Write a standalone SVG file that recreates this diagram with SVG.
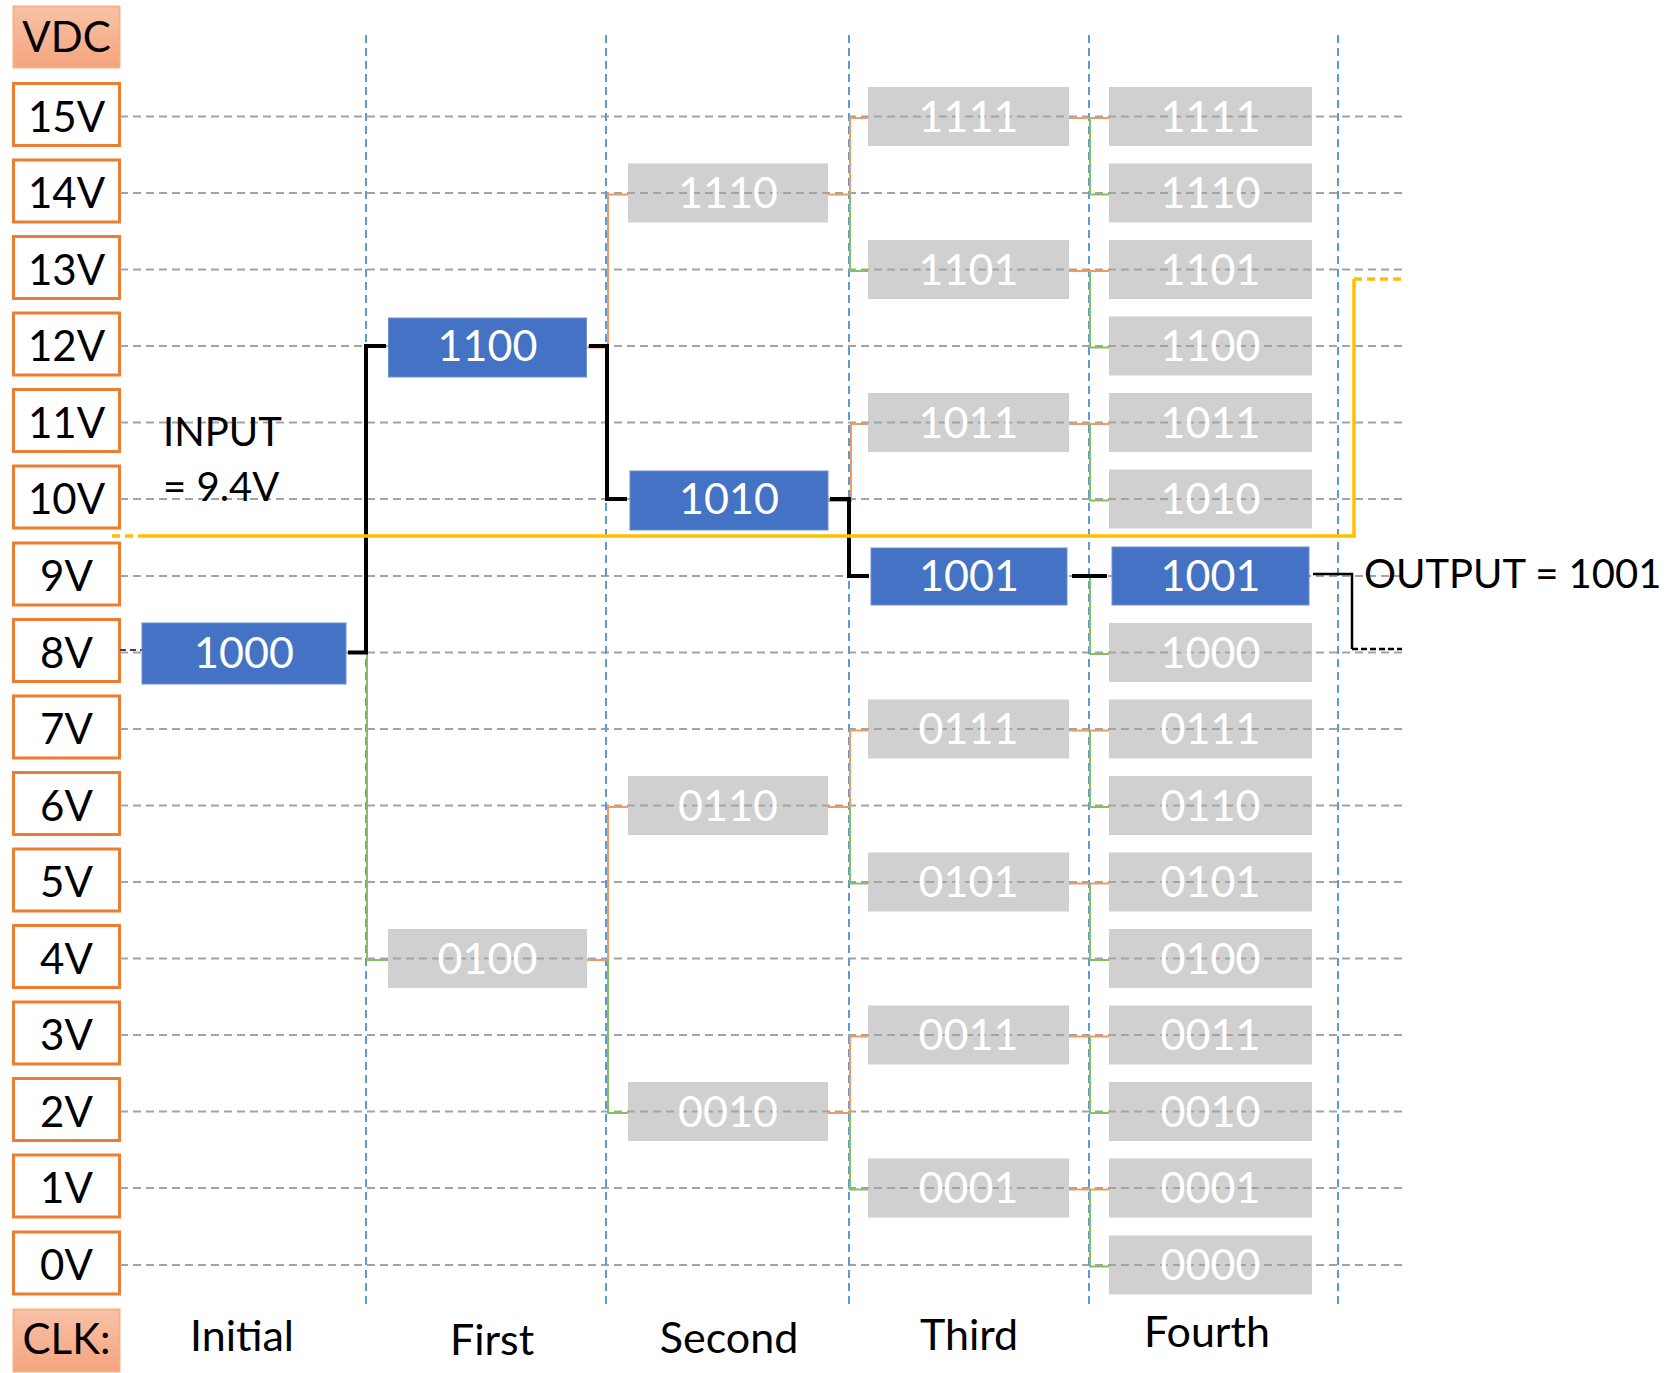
<svg xmlns="http://www.w3.org/2000/svg" width="1673" height="1373" viewBox="0 0 1673 1373">
<defs>
<linearGradient id="og" x1="0" y1="0" x2="0" y2="1">
<stop offset="0" stop-color="#f8c2a6"/>
<stop offset="1" stop-color="#f4a47e"/>
</linearGradient>
</defs>
<style>
text{font-family:Lato,"Liberation Sans",sans-serif;font-size:43px;text-anchor:middle}
.lb{fill:#fff;stroke:#ed7d31;stroke-width:3}
.hd{fill:url(#og);stroke:#f4b183;stroke-width:2}
.g{fill:#d0d0d0}
.b{fill:#4472c4;stroke:#6f90d2;stroke-width:1}
.wt{fill:#fff}
.kt{fill:#000}
.lt{font-size:42px}
.hl{stroke:#a3a3a3;stroke-width:2.2;stroke-dasharray:8 5;fill:none}
.vl{stroke:#5b9bd5;stroke-width:2;stroke-dasharray:8 5;fill:none}
.or{stroke:#f19a5f;stroke-width:2;fill:none}
.gr{stroke:#82c060;stroke-width:2;fill:none}
.bk{stroke:#000;stroke-width:4;fill:none}
.yl{stroke:#ffc000;stroke-width:3.5;fill:none}
</style>
<rect width="1673" height="1373" fill="#fff"/>

<g id="axis-labels">
<g id="lbl-vdc"><rect class="hd" x="13.5" y="6.5" width="106" height="61"/><text class="kt lt" x="66.5" y="52">VDC</text></g>
<g id="lbl-15"><rect class="lb" x="13.5" y="83.5" width="106" height="62"/><text class="kt lt" x="66.5" y="131.5">15V</text></g>
<g id="lbl-14"><rect class="lb" x="13.5" y="160" width="106" height="62"/><text class="kt lt" x="66.5" y="208">14V</text></g>
<g id="lbl-13"><rect class="lb" x="13.5" y="236.5" width="106" height="62"/><text class="kt lt" x="66.5" y="284.5">13V</text></g>
<g id="lbl-12"><rect class="lb" x="13.5" y="313" width="106" height="62"/><text class="kt lt" x="66.5" y="361">12V</text></g>
<g id="lbl-11"><rect class="lb" x="13.5" y="389.5" width="106" height="62"/><text class="kt lt" x="66.5" y="437.5">11V</text></g>
<g id="lbl-10"><rect class="lb" x="13.5" y="466" width="106" height="62"/><text class="kt lt" x="66.5" y="514">10V</text></g>
<g id="lbl-9"><rect class="lb" x="13.5" y="543" width="106" height="62"/><text class="kt lt" x="66.5" y="591">9V</text></g>
<g id="lbl-8"><rect class="lb" x="13.5" y="619.5" width="106" height="62"/><text class="kt lt" x="66.5" y="667.5">8V</text></g>
<g id="lbl-7"><rect class="lb" x="13.5" y="696" width="106" height="62"/><text class="kt lt" x="66.5" y="744">7V</text></g>
<g id="lbl-6"><rect class="lb" x="13.5" y="772.5" width="106" height="62"/><text class="kt lt" x="66.5" y="820.5">6V</text></g>
<g id="lbl-5"><rect class="lb" x="13.5" y="849" width="106" height="62"/><text class="kt lt" x="66.5" y="897">5V</text></g>
<g id="lbl-4"><rect class="lb" x="13.5" y="925.5" width="106" height="62"/><text class="kt lt" x="66.5" y="973.5">4V</text></g>
<g id="lbl-3"><rect class="lb" x="13.5" y="1002" width="106" height="62"/><text class="kt lt" x="66.5" y="1050">3V</text></g>
<g id="lbl-2"><rect class="lb" x="13.5" y="1078.5" width="106" height="62"/><text class="kt lt" x="66.5" y="1126.5">2V</text></g>
<g id="lbl-1"><rect class="lb" x="13.5" y="1155" width="106" height="62"/><text class="kt lt" x="66.5" y="1203">1V</text></g>
<g id="lbl-0"><rect class="lb" x="13.5" y="1232" width="106" height="62"/><text class="kt lt" x="66.5" y="1280">0V</text></g>
<g id="lbl-clk"><rect class="hd" x="13.5" y="1309.5" width="106" height="62"/><text class="kt lt" x="66.5" y="1354">CLK:</text></g>
</g>

<g id="gray-boxes">
<rect class="g" x="388" y="929" width="199" height="59"/>
<rect class="g" x="628" y="163.5" width="200" height="59"/>
<rect class="g" x="628" y="776" width="200" height="59"/>
<rect class="g" x="628" y="1082" width="200" height="59"/>
<rect class="g" x="868" y="87" width="201" height="59"/>
<rect class="g" x="868" y="240" width="201" height="59"/>
<rect class="g" x="868" y="393" width="201" height="59"/>
<rect class="g" x="868" y="699.5" width="201" height="59"/>
<rect class="g" x="868" y="852.5" width="201" height="59"/>
<rect class="g" x="868" y="1005.5" width="201" height="59"/>
<rect class="g" x="868" y="1158.5" width="201" height="59"/>
<rect class="g" x="1109" y="87" width="203" height="59"/>
<rect class="g" x="1109" y="163.5" width="203" height="59"/>
<rect class="g" x="1109" y="240" width="203" height="59"/>
<rect class="g" x="1109" y="316.5" width="203" height="59"/>
<rect class="g" x="1109" y="393" width="203" height="59"/>
<rect class="g" x="1109" y="469.5" width="203" height="59"/>
<rect class="g" x="1109" y="623" width="203" height="59"/>
<rect class="g" x="1109" y="699.5" width="203" height="59"/>
<rect class="g" x="1109" y="776" width="203" height="59"/>
<rect class="g" x="1109" y="852.5" width="203" height="59"/>
<rect class="g" x="1109" y="929" width="203" height="59"/>
<rect class="g" x="1109" y="1005.5" width="203" height="59"/>
<rect class="g" x="1109" y="1082" width="203" height="59"/>
<rect class="g" x="1109" y="1158.5" width="203" height="59"/>
<rect class="g" x="1109" y="1235.5" width="203" height="59"/>
</g>

<g id="grid">
<line class="hl" x1="120" y1="116.5" x2="1407" y2="116.5"/>
<line class="hl" x1="120" y1="193" x2="1407" y2="193"/>
<line class="hl" x1="120" y1="269.5" x2="1407" y2="269.5"/>
<line class="hl" x1="120" y1="346" x2="1407" y2="346"/>
<line class="hl" x1="120" y1="422.5" x2="1407" y2="422.5"/>
<line class="hl" x1="120" y1="499" x2="1407" y2="499"/>
<line class="hl" x1="120" y1="576" x2="1407" y2="576"/>
<line class="hl" x1="120" y1="652.5" x2="1407" y2="652.5"/>
<line class="hl" x1="120" y1="729" x2="1407" y2="729"/>
<line class="hl" x1="120" y1="805.5" x2="1407" y2="805.5"/>
<line class="hl" x1="120" y1="882" x2="1407" y2="882"/>
<line class="hl" x1="120" y1="958.5" x2="1407" y2="958.5"/>
<line class="hl" x1="120" y1="1035" x2="1407" y2="1035"/>
<line class="hl" x1="120" y1="1111.5" x2="1407" y2="1111.5"/>
<line class="hl" x1="120" y1="1188" x2="1407" y2="1188"/>
<line class="hl" x1="120" y1="1265" x2="1407" y2="1265"/>
<line x1="120" y1="650" x2="142" y2="650" stroke="#444" stroke-width="2" stroke-dasharray="6 4"/>
<line class="vl" x1="366" y1="35" x2="366" y2="1308"/>
<line class="vl" x1="606" y1="35" x2="606" y2="1308"/>
<line class="vl" x1="849" y1="35" x2="849" y2="1308"/>
<line class="vl" x1="1089" y1="35" x2="1089" y2="1308"/>
<line class="vl" x1="1338" y1="35" x2="1338" y2="1305"/>
</g>

<g id="gray-box-text">
<text class="wt" x="487.5" y="973.5">0100</text>
<text class="wt" x="728" y="208">1110</text>
<text class="wt" x="728" y="820.5">0110</text>
<text class="wt" x="728" y="1126.5">0010</text>
<text class="wt" x="968.5" y="131.5">1111</text>
<text class="wt" x="968.5" y="284.5">1101</text>
<text class="wt" x="968.5" y="437.5">1011</text>
<text class="wt" x="968.5" y="744">0111</text>
<text class="wt" x="968.5" y="897">0101</text>
<text class="wt" x="968.5" y="1050">0011</text>
<text class="wt" x="968.5" y="1203">0001</text>
<text class="wt" x="1210.5" y="131.5">1111</text>
<text class="wt" x="1210.5" y="208">1110</text>
<text class="wt" x="1210.5" y="284.5">1101</text>
<text class="wt" x="1210.5" y="361">1100</text>
<text class="wt" x="1210.5" y="437.5">1011</text>
<text class="wt" x="1210.5" y="514">1010</text>
<text class="wt" x="1210.5" y="667.5">1000</text>
<text class="wt" x="1210.5" y="744">0111</text>
<text class="wt" x="1210.5" y="820.5">0110</text>
<text class="wt" x="1210.5" y="897">0101</text>
<text class="wt" x="1210.5" y="973.5">0100</text>
<text class="wt" x="1210.5" y="1050">0011</text>
<text class="wt" x="1210.5" y="1126.5">0010</text>
<text class="wt" x="1210.5" y="1203">0001</text>
<text class="wt" x="1210.5" y="1280">0000</text>
</g>

<g id="connectors">
<path class="gr" d="M367,652.5 V960 H388"/>
<path class="or" d="M587,347.5 H608 V194.5 H628"/>
<path class="or" d="M587,960 H608 V807 H628"/>
<path class="gr" d="M608,960 V1113 H628"/>
<path class="or" d="M828,194.5 H850 V118 H868"/>
<path class="gr" d="M850,194.5 V271 H868"/>
<path class="or" d="M828,501 H851 V424 H868"/>
<path class="or" d="M828,807 H850 V730.5 H868"/>
<path class="gr" d="M850,807 V883.5 H868"/>
<path class="or" d="M828,1113 H850 V1036.5 H868"/>
<path class="gr" d="M850,1113 V1189.5 H868"/>
<path class="or" d="M1069,118 H1109"/>
<path class="gr" d="M1090,118 V194.5 H1109"/>
<path class="or" d="M1069,271 H1109"/>
<path class="gr" d="M1090,271 V347.5 H1109"/>
<path class="or" d="M1069,424 H1109"/>
<path class="gr" d="M1090,424 V500.5 H1109"/>
<path class="gr" d="M1090,577 V654 H1109"/>
<path class="or" d="M1069,730.5 H1109"/>
<path class="gr" d="M1090,730.5 V807 H1109"/>
<path class="or" d="M1069,883.5 H1109"/>
<path class="gr" d="M1090,883.5 V960 H1109"/>
<path class="or" d="M1069,1036.5 H1109"/>
<path class="gr" d="M1090,1036.5 V1113 H1109"/>
<path class="or" d="M1069,1189.5 H1109"/>
<path class="gr" d="M1090,1189.5 V1266.5 H1109"/>
<path class="bk" d="M348,652.5 H366 V346 H386"/>
<path class="bk" d="M589,346 H607 V499 H627"/>
<path class="bk" d="M830,499 H849 V576 H869"/>
<path class="bk" d="M1072,576 H1107"/>
<path d="M1313,574 H1352 V649" stroke="#000" stroke-width="2.5" fill="none"/>
<path d="M1352,649 H1402" stroke="#000" stroke-width="2.5" stroke-dasharray="6 3" fill="none"/>
<path class="yl" d="M112,536 H143" stroke-dasharray="8 5"/>
<path class="yl" d="M143,536 H1354 V279"/>
<path class="yl" d="M1354,279 H1405" stroke-width="2.5" stroke-dasharray="8 5"/>
</g>

<g id="node-1000"><rect class="b" x="142" y="623" width="204" height="61"/><text class="wt" x="244" y="668">1000</text></g>
<g id="node-1100"><rect class="b" x="388.5" y="318" width="198" height="59"/><text class="wt" x="487.5" y="361">1100</text></g>
<g id="node-1010"><rect class="b" x="630" y="471" width="198" height="59"/><text class="wt" x="729" y="514">1010</text></g>
<g id="node-1001-3"><rect class="b" x="871" y="548" width="196" height="57"/><text class="wt" x="969" y="591">1001</text></g>
<g id="node-1001-4"><rect class="b" x="1112" y="547" width="197" height="58"/><text class="wt" x="1210.5" y="591">1001</text></g>

<g id="annotations">
<text class="kt" x="163" y="446" style="text-anchor:start;font-size:40px">INPUT</text>
<text class="kt" x="163" y="501" style="text-anchor:start;font-size:40px">= 9.4V</text>
<text class="kt" x="1364" y="588" style="text-anchor:start;font-size:40px">OUTPUT = 1001</text>
<text class="kt" x="242" y="1351">Initial</text>
<text class="kt" x="492" y="1355">First</text>
<text class="kt" x="729" y="1353">Second</text>
<text class="kt" x="969" y="1350">Third</text>
<text class="kt" x="1207" y="1347">Fourth</text>
</g>
</svg>
